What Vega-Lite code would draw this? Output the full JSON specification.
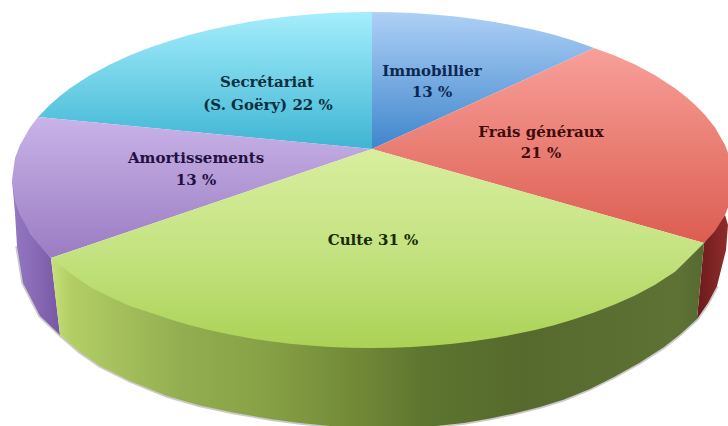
{"$schema":"https://vega.github.io/schema/vega-lite/v6.json","width":728,"height":426,"padding":0,"autosize":{"type":"fit","contains":"padding"},"background":"white","config":{"view":{"stroke":null}},
"datasets":{"shapes":[
{"s":"rim","i":3,"x":17,"y":246},{"s":"rim","i":4,"x":23,"y":283},{"s":"rim","i":5,"x":40,"y":316},{"s":"rim","i":6,"x":60,"y":335},{"s":"rim","i":7,"x":80,"y":352},{"s":"rim","i":8,"x":100,"y":366},{"s":"rim","i":9,"x":130,"y":381},{"s":"rim","i":10,"x":167,"y":396},{"s":"rim","i":11,"x":200,"y":405.5},{"s":"rim","i":12,"x":233,"y":412.5},{"s":"rim","i":13,"x":270,"y":419},{"s":"rim","i":14,"x":300,"y":423},{"s":"rim","i":15,"x":340,"y":427},{"s":"rim","i":16,"x":370,"y":428.5},{"s":"rim","i":17,"x":400,"y":428},{"s":"rim","i":18,"x":431,"y":426.5},{"s":"rim","i":19,"x":464,"y":423},{"s":"rim","i":20,"x":490,"y":418.5},{"s":"rim","i":21,"x":514,"y":413.5},{"s":"rim","i":22,"x":540,"y":407},{"s":"rim","i":23,"x":564,"y":399.5},{"s":"rim","i":24,"x":590,"y":389},{"s":"rim","i":25,"x":614,"y":377},{"s":"rim","i":26,"x":640,"y":362.5},{"s":"rim","i":27,"x":664,"y":347},{"s":"rim","i":28,"x":680,"y":334.5},{"s":"rim","i":29,"x":697,"y":319},{"s":"rim","i":30,"x":708,"y":303},{"s":"rim","i":31,"x":717,"y":286},
{"s":"sideA","i":1,"x":12,"y":180},{"s":"sideA","i":2,"x":15,"y":213},{"s":"sideA","i":3,"x":17,"y":246},{"s":"sideA","i":4,"x":23,"y":283},{"s":"sideA","i":5,"x":40,"y":316},{"s":"sideA","i":6,"x":60,"y":335},{"s":"sideA","i":7,"x":51,"y":258},{"s":"sideA","i":8,"x":30,"y":233},
{"s":"sideF","i":1,"x":704,"y":243},{"s":"sideF","i":2,"x":725,"y":215},{"s":"sideF","i":3,"x":728,"y":225},{"s":"sideF","i":4,"x":726,"y":250},{"s":"sideF","i":5,"x":717,"y":286},{"s":"sideF","i":6,"x":708,"y":303},{"s":"sideF","i":7,"x":697,"y":319},
{"s":"sideC","i":1,"x":51,"y":258},{"s":"sideC","i":2,"x":60,"y":335},{"s":"sideC","i":3,"x":80,"y":352},{"s":"sideC","i":4,"x":100,"y":366},{"s":"sideC","i":5,"x":130,"y":381},{"s":"sideC","i":6,"x":167,"y":396},{"s":"sideC","i":7,"x":200,"y":405.5},{"s":"sideC","i":8,"x":233,"y":412.5},{"s":"sideC","i":9,"x":270,"y":419},{"s":"sideC","i":10,"x":300,"y":423},{"s":"sideC","i":11,"x":340,"y":427},{"s":"sideC","i":12,"x":370,"y":428.5},{"s":"sideC","i":13,"x":400,"y":428},{"s":"sideC","i":14,"x":431,"y":426.5},{"s":"sideC","i":15,"x":464,"y":423},{"s":"sideC","i":16,"x":490,"y":418.5},{"s":"sideC","i":17,"x":514,"y":413.5},{"s":"sideC","i":18,"x":540,"y":407},{"s":"sideC","i":19,"x":564,"y":399.5},{"s":"sideC","i":20,"x":590,"y":389},{"s":"sideC","i":21,"x":614,"y":377},{"s":"sideC","i":22,"x":640,"y":362.5},{"s":"sideC","i":23,"x":664,"y":347},{"s":"sideC","i":24,"x":680,"y":334.5},{"s":"sideC","i":25,"x":697,"y":319},{"s":"sideC","i":26,"x":704,"y":243},
{"s":"Secr","i":1,"x":372,"y":149},{"s":"Secr","i":2,"x":38,"y":117},{"s":"Secr","i":3,"x":50,"y":104.7},{"s":"Secr","i":4,"x":60,"y":96},{"s":"Secr","i":5,"x":70,"y":88.3},{"s":"Secr","i":6,"x":90,"y":75.3},{"s":"Secr","i":7,"x":110,"y":64.5},{"s":"Secr","i":8,"x":130,"y":55.3},{"s":"Secr","i":9,"x":150,"y":47.5},{"s":"Secr","i":10,"x":170,"y":40.7},{"s":"Secr","i":11,"x":190,"y":34.8},{"s":"Secr","i":12,"x":210,"y":29.7},{"s":"Secr","i":13,"x":230,"y":25.4},{"s":"Secr","i":14,"x":250,"y":21.7},{"s":"Secr","i":15,"x":270,"y":18.7},{"s":"Secr","i":16,"x":290,"y":16.2},{"s":"Secr","i":17,"x":310,"y":14.4},{"s":"Secr","i":18,"x":330,"y":13.1},{"s":"Secr","i":19,"x":350,"y":12.3},{"s":"Secr","i":20,"x":372,"y":12},
{"s":"Immo","i":1,"x":372,"y":149},{"s":"Immo","i":2,"x":372,"y":12},{"s":"Immo","i":3,"x":392,"y":12.3},{"s":"Immo","i":4,"x":412,"y":13.1},{"s":"Immo","i":5,"x":433,"y":14.4},{"s":"Immo","i":6,"x":453,"y":16.2},{"s":"Immo","i":7,"x":473,"y":18.7},{"s":"Immo","i":8,"x":493,"y":21.7},{"s":"Immo","i":9,"x":513,"y":25.4},{"s":"Immo","i":10,"x":534,"y":29.7},{"s":"Immo","i":11,"x":554,"y":34.8},{"s":"Immo","i":12,"x":574,"y":40.7},{"s":"Immo","i":13,"x":594,"y":48},
{"s":"Frais","i":1,"x":372,"y":149},{"s":"Frais","i":2,"x":594,"y":48},{"s":"Frais","i":3,"x":614,"y":55.3},{"s":"Frais","i":4,"x":635,"y":64.5},{"s":"Frais","i":5,"x":655,"y":75.3},{"s":"Frais","i":6,"x":675,"y":88.3},{"s":"Frais","i":7,"x":685,"y":96},{"s":"Frais","i":8,"x":695,"y":104.7},{"s":"Frais","i":9,"x":705,"y":114.9},{"s":"Frais","i":10,"x":715,"y":127.4},{"s":"Frais","i":11,"x":725,"y":145},{"s":"Frais","i":12,"x":730,"y":158},{"s":"Frais","i":13,"x":734,"y":180},{"s":"Frais","i":14,"x":730,"y":202},{"s":"Frais","i":15,"x":725,"y":215},{"s":"Frais","i":16,"x":715,"y":231},{"s":"Frais","i":17,"x":704,"y":243},
{"s":"Culte","i":1,"x":372,"y":149},{"s":"Culte","i":2,"x":704,"y":243},{"s":"Culte","i":3,"x":695,"y":252},{"s":"Culte","i":4,"x":685,"y":262},{"s":"Culte","i":5,"x":675,"y":271.7},{"s":"Culte","i":6,"x":655,"y":284.7},{"s":"Culte","i":7,"x":635,"y":295.5},{"s":"Culte","i":8,"x":614,"y":304.7},{"s":"Culte","i":9,"x":594,"y":312.5},{"s":"Culte","i":10,"x":574,"y":319.3},{"s":"Culte","i":11,"x":554,"y":325.2},{"s":"Culte","i":12,"x":534,"y":330.3},{"s":"Culte","i":13,"x":513,"y":334.6},{"s":"Culte","i":14,"x":493,"y":338.3},{"s":"Culte","i":15,"x":473,"y":341.3},{"s":"Culte","i":16,"x":453,"y":343.8},{"s":"Culte","i":17,"x":433,"y":345.6},{"s":"Culte","i":18,"x":412,"y":346.9},{"s":"Culte","i":19,"x":392,"y":347.7},{"s":"Culte","i":20,"x":370,"y":348},{"s":"Culte","i":21,"x":350,"y":347.7},{"s":"Culte","i":22,"x":330,"y":346.9},{"s":"Culte","i":23,"x":310,"y":345.6},{"s":"Culte","i":24,"x":290,"y":343.8},{"s":"Culte","i":25,"x":270,"y":341.3},{"s":"Culte","i":26,"x":250,"y":338.3},{"s":"Culte","i":27,"x":230,"y":334.6},{"s":"Culte","i":28,"x":210,"y":330.3},{"s":"Culte","i":29,"x":190,"y":325.2},{"s":"Culte","i":30,"x":170,"y":319.3},{"s":"Culte","i":31,"x":150,"y":312.5},{"s":"Culte","i":32,"x":130,"y":306},{"s":"Culte","i":33,"x":110,"y":297},{"s":"Culte","i":34,"x":90,"y":287},{"s":"Culte","i":35,"x":70,"y":273},{"s":"Culte","i":36,"x":51,"y":258},
{"s":"Amort","i":1,"x":372,"y":149},{"s":"Amort","i":2,"x":51,"y":258},{"s":"Amort","i":3,"x":40,"y":246},{"s":"Amort","i":4,"x":30,"y":233},{"s":"Amort","i":5,"x":20,"y":215},{"s":"Amort","i":6,"x":15,"y":202},{"s":"Amort","i":7,"x":12,"y":180},{"s":"Amort","i":8,"x":15,"y":158},{"s":"Amort","i":9,"x":20,"y":145},{"s":"Amort","i":10,"x":30,"y":127.4},{"s":"Amort","i":11,"x":38,"y":117}
],
"labels":[
{"t":"Secrétariat","x":267,"y":82,"c":"a"},{"t":"(S. Goëry) 22 %","x":268,"y":105,"c":"a"},
{"t":"Immobillier","x":432,"y":71,"c":"b"},{"t":"13 %","x":432,"y":92,"c":"b"},
{"t":"Frais généraux","x":541,"y":132,"c":"c"},{"t":"21 %","x":541,"y":153,"c":"c"},
{"t":"Amortissements","x":196,"y":158,"c":"d"},{"t":"13 %","x":196,"y":180,"c":"d"},
{"t":"Culte 31 %","x":373,"y":240,"c":"e"}]},
"encoding":{
"x":{"field":"x","type":"quantitative","scale":{"domain":[0,728],"nice":false,"zero":false},"axis":null},
"y":{"field":"y","type":"quantitative","scale":{"domain":[426,0],"nice":false,"zero":false},"axis":null}},
"layer":[
{"data":{"name":"shapes"},"transform":[{"filter":"datum.s==='rim'"}],"mark":{"type":"line","clip":true,"stroke":"#8a8a8a","strokeWidth":3.5,"opacity":0.45,"fill":null},"encoding":{"order":{"field":"i"}}},
{"data":{"name":"shapes"},"transform":[{"filter":"datum.s==='sideA'"}],"mark":{"type":"line","clip":true,"strokeWidth":0,"fill":{"x1":0,"y1":0,"x2":1,"y2":0,"gradient":"linear","stops":[{"offset":0,"color":"#9478c0"},{"offset":0.4,"color":"#8a6cb8"},{"offset":1,"color":"#7658a6"}]}},"encoding":{"order":{"field":"i"}}},
{"data":{"name":"shapes"},"transform":[{"filter":"datum.s==='sideF'"}],"mark":{"type":"line","clip":true,"strokeWidth":0,"fill":{"x1":0,"y1":0,"x2":1,"y2":0,"gradient":"linear","stops":[{"offset":0,"color":"#6d1a1c"},{"offset":1,"color":"#8f2c2c"}]}},"encoding":{"order":{"field":"i"}}},
{"data":{"name":"shapes"},"transform":[{"filter":"datum.s==='sideC'"}],"mark":{"type":"line","clip":true,"strokeWidth":0,"fill":{"x1":0,"y1":0,"x2":1,"y2":0,"gradient":"linear","stops":[{"offset":0,"color":"#c8e07a"},{"offset":0.03,"color":"#b2ce64"},{"offset":0.2,"color":"#93ae50"},{"offset":0.335,"color":"#86a045"},{"offset":0.48,"color":"#6f8736"},{"offset":0.57,"color":"#5e7530"},{"offset":0.72,"color":"#556a2c"},{"offset":0.96,"color":"#5e7236"},{"offset":1,"color":"#566a30"}]}},"encoding":{"order":{"field":"i"}}},
{"data":{"name":"shapes"},"transform":[{"filter":"datum.s==='Secr'"}],"mark":{"type":"line","clip":true,"strokeWidth":0,"fill":{"x1":0,"y1":0,"x2":0,"y2":1,"gradient":"linear","stops":[{"offset":0,"color":"#a5eefc"},{"offset":1,"color":"#3eb5d3"}]}},"encoding":{"order":{"field":"i"}}},
{"data":{"name":"shapes"},"transform":[{"filter":"datum.s==='Immo'"}],"mark":{"type":"line","clip":true,"strokeWidth":0,"fill":{"x1":0,"y1":0,"x2":0,"y2":1,"gradient":"linear","stops":[{"offset":0,"color":"#aed0f6"},{"offset":1,"color":"#3f86cc"}]}},"encoding":{"order":{"field":"i"}}},
{"data":{"name":"shapes"},"transform":[{"filter":"datum.s==='Amort'"}],"mark":{"type":"line","clip":true,"strokeWidth":0,"fill":{"x1":0,"y1":0,"x2":0,"y2":1,"gradient":"linear","stops":[{"offset":0,"color":"#c9b3e7"},{"offset":1,"color":"#9a7cc3"}]}},"encoding":{"order":{"field":"i"}}},
{"data":{"name":"shapes"},"transform":[{"filter":"datum.s==='Frais'"}],"mark":{"type":"line","clip":true,"strokeWidth":0,"fill":{"x1":0,"y1":0,"x2":0,"y2":1,"gradient":"linear","stops":[{"offset":0,"color":"#f8a09a"},{"offset":1,"color":"#dc5d50"}]}},"encoding":{"order":{"field":"i"}}},
{"data":{"name":"shapes"},"transform":[{"filter":"datum.s==='Culte'"}],"mark":{"type":"line","clip":true,"strokeWidth":0,"fill":{"x1":0,"y1":0,"x2":0,"y2":1,"gradient":"linear","stops":[{"offset":0,"color":"#d8ee9e"},{"offset":0.5,"color":"#c5e382"},{"offset":1,"color":"#abd256"}]}},"encoding":{"order":{"field":"i"}}},
{"data":{"name":"labels"},"mark":{"type":"text","font":"DejaVu Serif","fontWeight":"bold","fontSize":15,"align":"center","baseline":"middle"},"encoding":{"text":{"field":"t"},"color":{"field":"c","type":"nominal","legend":null,"scale":{"domain":["a","b","c","d","e"],"range":["#0b2f3d","#0c2850","#400b0b","#221040","#182a05"]}}}}
]}
